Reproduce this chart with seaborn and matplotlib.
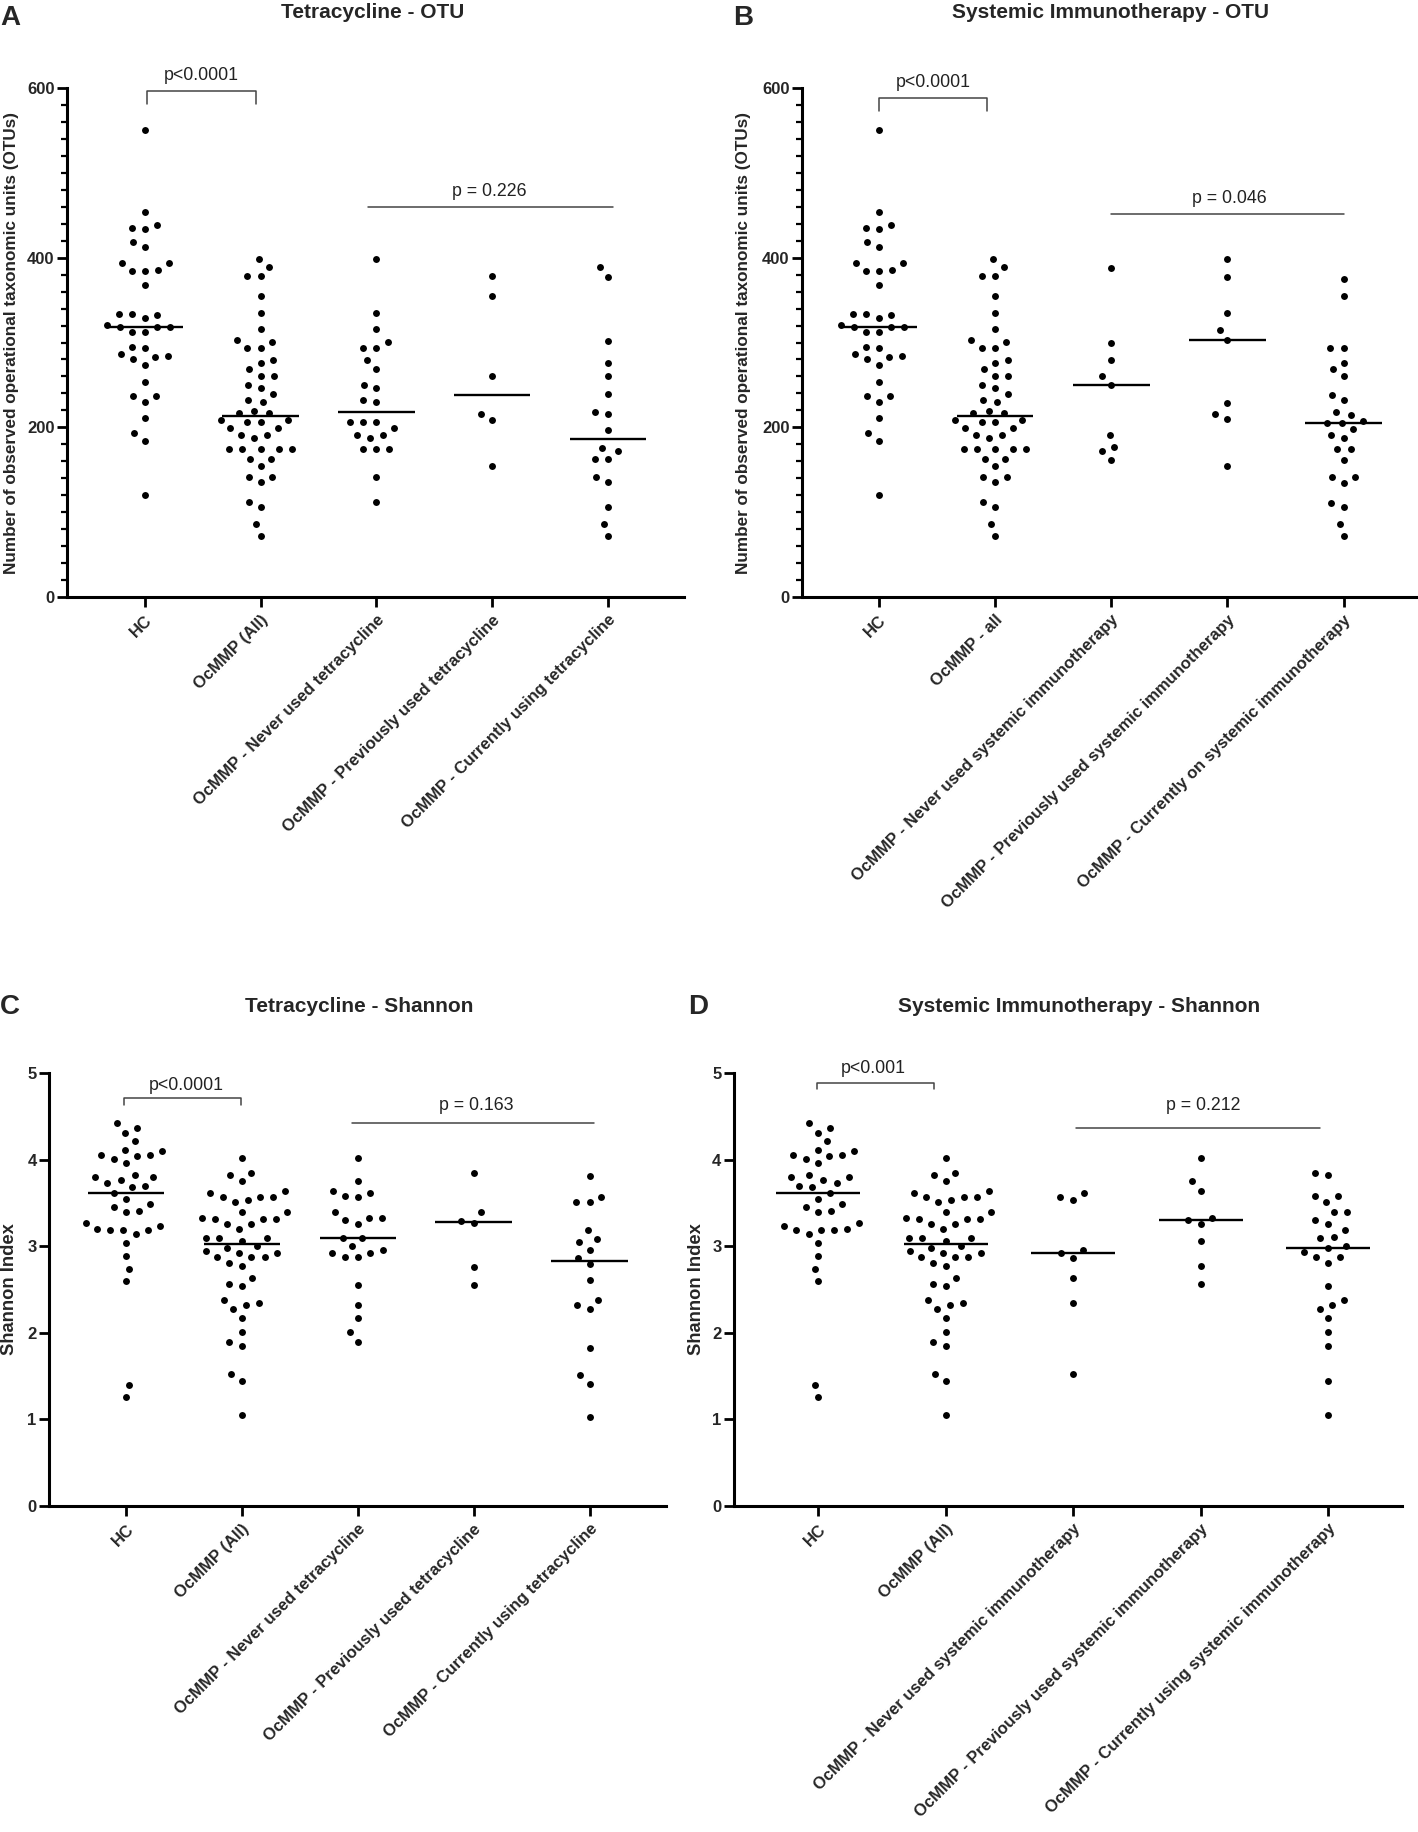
import numpy as np
import pandas as pd
import matplotlib
matplotlib.use("Agg")
import matplotlib.pyplot as plt
from matplotlib.ticker import MultipleLocator
import seaborn as sns

# Category labels
tet_labels = ["HC", "OcMMP (All)", "OcMMP - Never used tetracycline",
              "OcMMP - Previously used tetracycline",
              "OcMMP - Currently using tetracycline"]
imm_otu_labels = ["HC", "OcMMP - all", "OcMMP - Never used systemic immunotherapy",
                  "OcMMP - Previously used systemic immunotherapy",
                  "OcMMP - Currently on systemic immunotherapy"]
imm_sha_labels = ["HC", "OcMMP (All)", "OcMMP - Never used systemic immunotherapy",
                  "OcMMP - Previously used systemic immunotherapy",
                  "OcMMP - Currently using systemic immunotherapy"]

# OTU counts
otu_hc = [550, 454, 439, 435, 434, 418, 412, 394, 394, 386, 384, 384, 368,
          334, 334, 333, 329, 321, 318, 318, 318, 312, 312, 295, 294, 287,
          284, 283, 280, 274, 254, 237, 237, 230, 211, 193, 184, 120]
otu_all = [398, 389, 378, 378, 355, 335, 316, 303, 301, 294, 294, 279, 276,
           269, 261, 261, 250, 246, 239, 232, 230, 219, 217, 217, 209, 209,
           206, 206, 199, 199, 191, 191, 188, 175, 175, 175, 175, 175, 163,
           163, 154, 141, 141, 135, 112, 106, 86, 72]
otu_tet_never = [398, 335, 316, 301, 294, 294, 279, 269, 250, 246, 232, 230,
                 206, 206, 206, 199, 191, 191, 188, 175, 175, 175, 141, 112]
otu_tet_prev = [378, 355, 261, 216, 209, 154]
otu_tet_curr = [389, 377, 302, 276, 261, 239, 218, 216, 197, 176, 172, 163,
                163, 141, 135, 106, 86, 72]
otu_imm_never = [388, 300, 279, 260, 250, 191, 177, 172, 162]
otu_imm_prev = [398, 377, 335, 315, 303, 229, 216, 210, 154]
otu_imm_curr = [375, 355, 293, 293, 276, 269, 261, 238, 232, 218, 215, 208,
                205, 205, 198, 191, 188, 175, 175, 162, 141, 141, 134, 111,
                106, 86, 72]

# Shannon index
sha_hc = [4.42, 4.37, 4.31, 4.21, 4.11, 4.10, 4.05, 4.05, 4.04, 4.01, 3.96,
          3.82, 3.80, 3.80, 3.76, 3.73, 3.69, 3.68, 3.61, 3.55, 3.49, 3.45,
          3.41, 3.39, 3.27, 3.23, 3.20, 3.19, 3.19, 3.19, 3.14, 3.04, 2.89,
          2.74, 2.60, 1.40, 1.26]
sha_all = [4.02, 3.85, 3.82, 3.75, 3.64, 3.62, 3.57, 3.57, 3.57, 3.53, 3.51,
           3.39, 3.39, 3.33, 3.31, 3.31, 3.31, 3.26, 3.26, 3.20, 3.10, 3.09,
           3.09, 3.06, 3.00, 2.98, 2.95, 2.92, 2.92, 2.87, 2.87, 2.87, 2.81,
           2.77, 2.63, 2.56, 2.54, 2.38, 2.34, 2.32, 2.28, 2.17, 2.01, 1.89,
           1.85, 1.52, 1.44, 1.05]
sha_tet_never = [4.02, 3.75, 3.64, 3.61, 3.58, 3.57, 3.39, 3.33, 3.33, 3.30,
                 3.26, 3.10, 3.09, 3.00, 2.96, 2.92, 2.92, 2.87, 2.87, 2.55,
                 2.32, 2.17, 2.01, 1.89]
sha_tet_prev = [3.85, 3.39, 3.29, 3.27, 2.76, 2.55]
sha_tet_curr = [3.81, 3.57, 3.51, 3.51, 3.19, 3.08, 3.05, 2.96, 2.86, 2.80,
                2.61, 2.38, 2.32, 2.27, 1.83, 1.51, 1.41, 1.03]
sha_imm_never = [3.61, 3.57, 3.53, 2.96, 2.92, 2.86, 2.63, 2.34, 1.52]
sha_imm_prev = [4.02, 3.75, 3.64, 3.33, 3.30, 3.26, 3.06, 2.77, 2.56]
sha_imm_curr = [3.85, 3.82, 3.58, 3.58, 3.51, 3.39, 3.39, 3.30, 3.26, 3.19,
                3.11, 3.09, 3.00, 2.98, 2.93, 2.87, 2.87, 2.81, 2.54, 2.38,
                2.32, 2.28, 2.17, 2.01, 1.85, 1.44, 1.05]

titles = ["Tetracycline - OTU", "Systemic Immunotherapy - OTU",
          "Tetracycline - Shannon", "Systemic Immunotherapy - Shannon"]
letters = ["A", "B", "C", "D"]
bracket_p = ["p<0.0001", "p<0.0001", "p<0.0001", "p<0.001"]
line_p = ["p = 0.226", "p = 0.046", "p = 0.163", "p = 0.212"]
otu_ylabel = "Number of observed operational taxonomic units (OTUs)"
sha_ylabel = "Shannon Index"

sns.set_style("ticks")
plt.rcParams["font.family"] = ["Liberation Sans", "DejaVu Sans"]

W, H = 1418, 1832
fig = plt.figure(figsize=(W / 100, H / 100), dpi=100)


def px_rect(left, right, top, bottom):
    return [left / W, 1 - bottom / H, (right - left) / W, (bottom - top) / H]


panels = [
    dict(labels=tet_labels, groups=[otu_hc, otu_all, otu_tet_never, otu_tet_prev, otu_tet_curr],
         rect=px_rect(67, 684, 88, 597), xlim=(-0.67, 4.655), kind="otu",
         ylab_x=-0.078, title_xy=(373, 12), letter_xy=(0, 18),
         br=(0.02, 0.96, 581, 597), br_txt=(0.49, 615),
         ln=(1.93, 4.04, 460), ln_txt=(2.97, 478)),
    dict(labels=imm_otu_labels, groups=[otu_hc, otu_all, otu_imm_never, otu_imm_prev, otu_imm_curr],
         rect=px_rect(802, 1418, 88, 597), xlim=(-0.66, 4.64), kind="otu",
         ylab_x=-0.082, title_xy=(1111, 12), letter_xy=(733, 18),
         br=(0.0, 0.93, 573, 588), br_txt=(0.47, 607),
         ln=(2.0, 4.0, 452), ln_txt=(3.02, 470)),
    dict(labels=tet_labels, groups=[sha_hc, sha_all, sha_tet_never, sha_tet_prev, sha_tet_curr],
         rect=px_rect(49, 666, 1073, 1506), xlim=(-0.665, 4.66), kind="sha",
         ylab_x=-0.050, title_xy=(359, 1006), letter_xy=(0, 1007),
         br=(-0.02, 0.99, 4.63, 4.71), br_txt=(0.52, 4.86),
         ln=(1.95, 4.04, 4.42), ln_txt=(3.02, 4.62)),
    dict(labels=imm_sha_labels, groups=[sha_hc, sha_all, sha_imm_never, sha_imm_prev, sha_imm_curr],
         rect=px_rect(734, 1402, 1073, 1506), xlim=(-0.66, 4.58), kind="sha",
         ylab_x=-0.043, title_xy=(1079, 1006), letter_xy=(688, 1007),
         br=(-0.01, 0.91, 4.82, 4.89), br_txt=(0.43, 5.05),
         ln=(2.02, 3.94, 4.36), ln_txt=(3.02, 4.63)),
]

ink = "#444444"

for i, p in enumerate(panels):
    ax = fig.add_axes(p["rect"])
    df = pd.DataFrame({
        "group": np.repeat(p["labels"], [len(g) for g in p["groups"]]),
        "value": np.concatenate(p["groups"]),
    })
    # white rim widens the swarm spacing without enlarging the dots
    sns.swarmplot(data=df, x="group", y="value", order=p["labels"], ax=ax,
                  color="black", size=7.0, linewidth=2.0, edgecolor="white",
                  zorder=2)
    # median line only
    sns.boxplot(data=df, x="group", y="value", order=p["labels"], ax=ax,
                width=0.66, showbox=False, showcaps=False, showfliers=False,
                whiskerprops={"visible": False},
                medianprops={"color": "black", "linewidth": 1.7}, zorder=3)

    ax.set_xlim(*p["xlim"])
    if p["kind"] == "otu":
        ax.set_ylim(0, 600)
        ax.set_yticks([0, 200, 400, 600])
        ax.yaxis.set_minor_locator(MultipleLocator(20))
        ylab, fs_lab = otu_ylabel, 12.3
    else:
        ax.set_ylim(0, 5)
        ax.set_yticks([0, 1, 2, 3, 4, 5])
        ylab, fs_lab = sha_ylabel, 13.2
    ax.set_yticklabels([str(int(t)) for t in ax.get_yticks()],
                       fontsize=12, fontweight="bold")
    ax.set_xticks(range(5))
    ax.set_xticklabels(p["labels"], rotation=45, ha="right",
                       rotation_mode="anchor", fontsize=12, fontweight="bold")
    ax.set_xlabel("")
    ax.set_ylabel(ylab, fontsize=fs_lab, fontweight="bold")
    ax.yaxis.set_label_coords(p["ylab_x"], 0.5)

    sns.despine(ax=ax)
    for side in ["left", "bottom"]:
        ax.spines[side].set_linewidth(2.2)
        ax.spines[side].set_color("black")
    ax.tick_params(axis="both", which="major", length=7, width=2,
                   color="black", pad=2)
    ax.tick_params(axis="y", which="minor", length=4, width=1.6, color="black")
    ax.tick_params(axis="x", which="major", pad=4)

    # significance bracket and line
    x0, x1, ylo, yhi = p["br"]
    ax.plot([x0, x0, x1, x1], [ylo, yhi, yhi, ylo], color=ink, lw=1.1,
            clip_on=False)
    ax.text(*p["br_txt"], bracket_p[i], ha="center", va="center",
            fontsize=12.8, color="#222222", clip_on=False)
    lx0, lx1, ly = p["ln"]
    ax.plot([lx0, lx1], [ly, ly], color=ink, lw=1.1, clip_on=False)
    ax.text(*p["ln_txt"], line_p[i], ha="center", va="center",
            fontsize=12.8, color="#222222", clip_on=False)

    tx, ty = p["title_xy"]
    fig.text(tx / W, 1 - ty / H, titles[i], ha="center", va="center",
             fontsize=15, fontweight="bold")
    lx, lyy = p["letter_xy"]
    fig.text(lx / W, 1 - lyy / H, letters[i], ha="left", va="center",
             fontsize=20, fontweight="bold")

fig.savefig("out.png", dpi=100)
